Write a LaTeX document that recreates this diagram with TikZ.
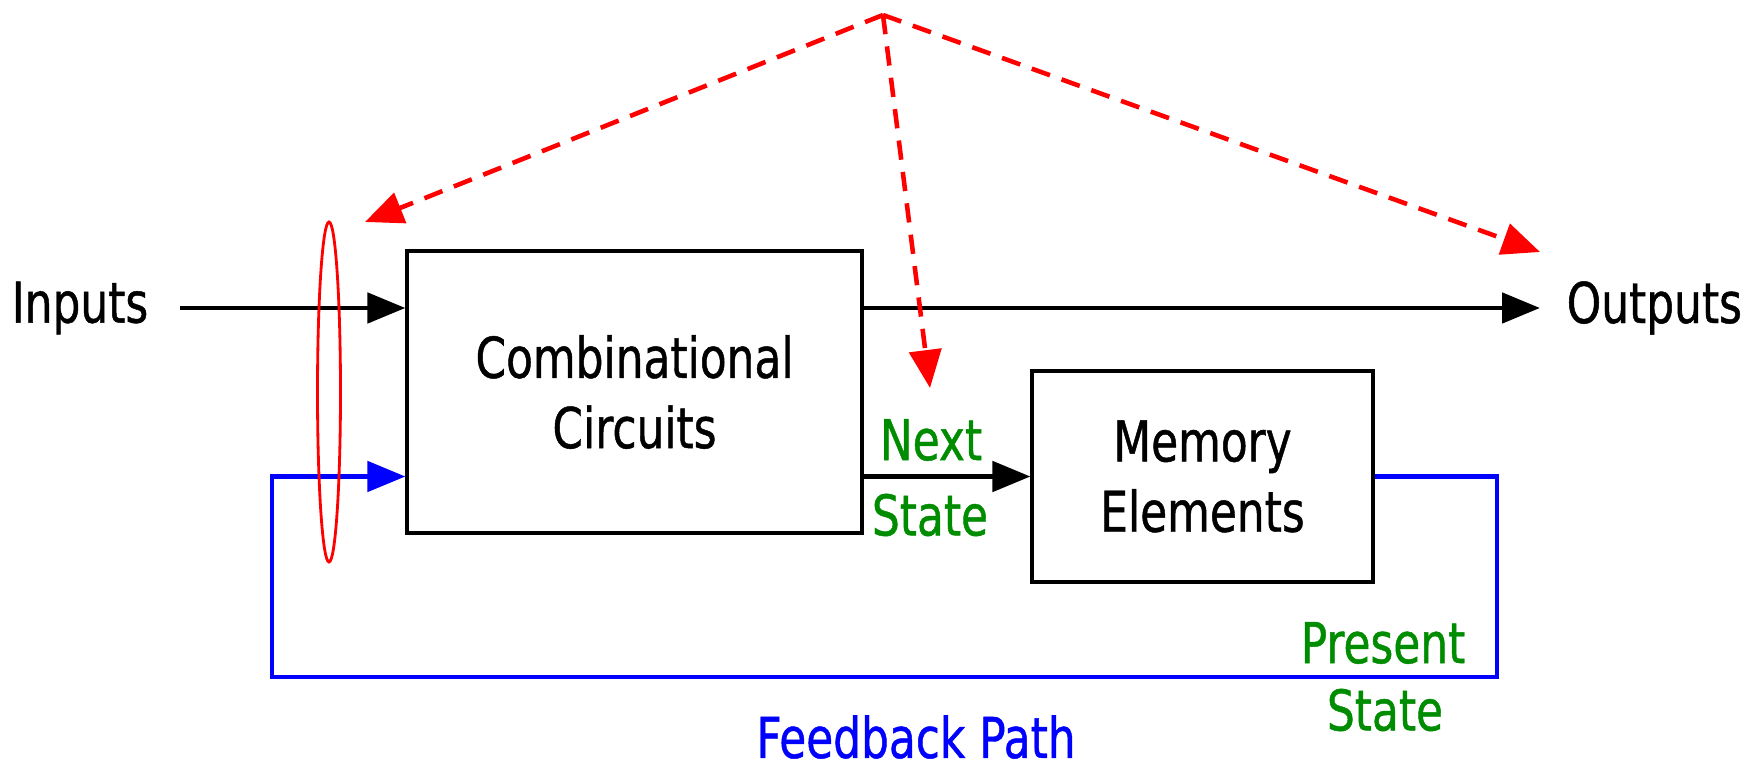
\documentclass[tikz,border=0pt]{standalone}
\usepackage{fontspec}
\setmainfont[FakeStretch=0.78,FakeBold=0.8]{DejaVu Sans}
\usetikzlibrary{arrows.meta,shapes.geometric}

\definecolor{stategreen}{RGB}{0,140,0}
\def\lw{1.4pt}

\begin{document}
\begin{tikzpicture}[
    every node/.style={font=\fontsize{16}{20}\selectfont},
    block/.style={draw, line width=0.9pt, minimum width=4.55cm, minimum height=2.82cm, align=center},
    wire/.style={line width=\lw, -{Triangle[length=0.38cm,width=0.3cm]}},
    feedback/.style={wire, blue},
    pointer/.style={red, line width=1.3pt, dash pattern=on 5.5pt off 3.5pt, -{Triangle[length=0.38cm,width=0.32cm]}},
    statelabel/.style={text=stategreen},
  ]
      \useasboundingbox (0,0) rectangle (17.61,7.68);
      % blocks
      \node[block] (comb) at (6.345, 3.76) {Combinational\\Circuits};
      \node[block, minimum width=3.41cm, minimum height=2.11cm] (mem) at (12.025, 2.915) {Memory\\Elements};
      % outer labels
      \node (in) at (0.80, 4.60) {Inputs};
      \node[anchor=west, inner sep=0pt] (out) at (15.66, 4.60) {Outputs};
      \coordinate (instart) at (1.80, 4.60);
      \coordinate (outend) at (15.40, 4.60);
      % signal wires
      \draw[wire] (instart) -- (comb.west |- instart);
      \draw[wire] (comb.east |- instart) -- (outend);
      \draw[wire] (comb.east |- mem.west) -- (mem.west);
      % feedback loop
      \coordinate (fbr) at (14.97, 0.91);
      \coordinate (fbl) at (2.72, 0.91);
      \draw[feedback] (mem.east) -| (fbr) -- (fbl) |- (comb.west |- mem.east);
      \node[statelabel] (next) at (9.31, 3.28) {Next};
      \node[statelabel] (nextst) at (9.30, 2.53) {State};
      \node[statelabel] (pres) at (13.83, 1.25) {Present};
      \node[statelabel] (presst) at (13.85, 0.58) {State};
      \node[text=blue] (fbpath) at (9.16, 0.31) {Feedback Path};
      % state ring and pointers
      \node[draw=red, line width=0.8pt, ellipse, minimum width=0.23cm, minimum height=3.40cm, inner sep=0pt] (ring) at (3.29, 3.76) {};
      \coordinate (apex) at (8.83, 7.53);
      \coordinate (tipin) at (3.65, 5.46);
      \coordinate (tipnext) at (9.30, 3.80);
      \coordinate (tipout) at (15.40, 5.16);
      \draw[pointer] (apex) -- (tipin);
      \draw[pointer] (apex) -- (tipnext);
      \draw[pointer] (apex) -- (tipout);
\end{tikzpicture}
\end{document}
